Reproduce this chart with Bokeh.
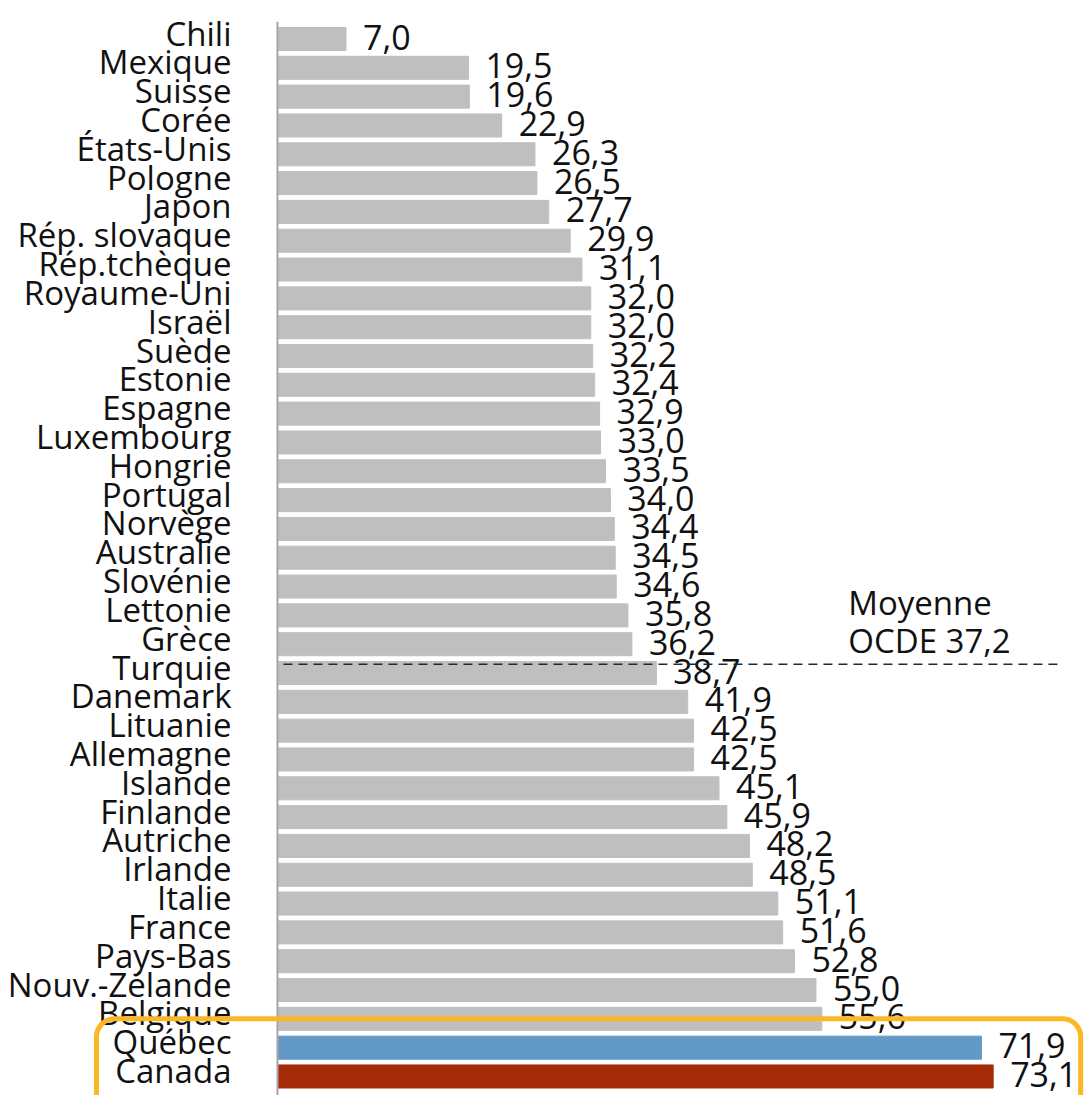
from bokeh.plotting import figure
from bokeh.models import ColumnDataSource, Range1d, BoxAnnotation
from bokeh.core.properties import value
from bokeh.embed import file_html
from bokeh.resources import INLINE

# ---- data ----
categories = ["Chili", "Mexique", "Suisse", "Corée", "États-Unis", "Pologne", "Japon",
              "Rép. slovaque", "Rép.tchèque", "Royaume-Uni", "Israël", "Suède", "Estonie",
              "Espagne", "Luxembourg", "Hongrie", "Portugal", "Norvège", "Australie",
              "Slovénie", "Lettonie", "Grèce", "Turquie", "Danemark", "Lituanie",
              "Allemagne", "Islande", "Finlande", "Autriche", "Irlande", "Italie",
              "France", "Pays-Bas", "Nouv.-Zélande", "Belgique", "Québec", "Canada"]
values = [7.0, 19.5, 19.6, 22.9, 26.3, 26.5, 27.7, 29.9, 31.1, 32.0, 32.0, 32.2, 32.4,
          32.9, 33.0, 33.5, 34.0, 34.4, 34.5, 34.6, 35.8, 36.2, 38.7, 41.9, 42.5, 42.5,
          45.1, 45.9, 48.2, 48.5, 51.1, 51.6, 52.8, 55.0, 55.6, 71.9, 73.1]
oecd_label = ["Moyenne", "OCDE 37,2"]
highlighted = ["Québec", "Canada"]

# ---- styles ----
FONT = "Open Sans"
GRAY = "#BFBFBF"
special_colors = {"Québec": "#6399C7", "Canada": "#A42C09"}

pos = list(range(len(categories)))
colors = [special_colors.get(c, GRAY) for c in categories]
labels = [f"{v:.1f}".replace(".", ",") for v in values]

src = ColumnDataSource(dict(y=pos, cat=categories, val=values, color=colors, lab=labels))

W, H = 1089, 1095
p = figure(width=W, height=H, output_backend="svg", toolbar_location=None,
           x_range=Range1d(-28.29, 82.94), y_range=Range1d(36.66, -1.336),
           min_border_left=0, min_border_right=0, min_border_top=0, min_border_bottom=0)
p.outline_line_color = None
p.xgrid.visible = False
p.ygrid.visible = False
p.xaxis.visible = False
p.yaxis.visible = False
p.background_fill_color = "white"
p.border_fill_color = "white"

p.hbar(y="y", left=0, right="val", height=0.8, color="color", source=src)

# axis line at zero
p.segment(x0=[0], x1=[0], y0=[-0.6], y1=[37], line_color="#A6A6A6", line_width=2)

# category labels
p.text(x=0, y="y", text="cat", source=src, x_offset=-46, y_offset=-6,
       text_align="right", text_baseline="middle", text_font=value(FONT),
       text_font_size="33px", text_color="#111111")

# value labels
p.text(x="val", y="y", text="lab", source=src, x_offset=17, y_offset=-2,
       text_align="left", text_baseline="middle", text_font=value(FONT),
       text_font_size="34px", text_color="#111111")

# OECD average line
line_y = 21.7
p.line(x=[0.61, 79.8], y=[line_y, line_y], line_color="#1B2A33", line_width=1.5,
       line_dash="9 6")
p.text(x=[58.3], y=[line_y], text=[oecd_label[0]], y_offset=-62,
       text_align="left", text_baseline="middle", text_font=value(FONT),
       text_font_size="33px", text_color="#111111")
p.text(x=[58.3], y=[line_y], text=[oecd_label[1]], y_offset=-24,
       text_align="left", text_baseline="middle", text_font=value(FONT),
       text_font_size="33px", text_color="#111111")

# highlight box
top_idx = categories.index("Belgique")
box = BoxAnnotation(left=-18.49, right=82.04, top=top_idx, bottom=37.5,
                    fill_alpha=0, line_color="#FBB824", line_alpha=1.0, line_width=5,
                    border_radius=18)
p.add_layout(box)

open("out.html", "w").write(file_html(p, INLINE))
